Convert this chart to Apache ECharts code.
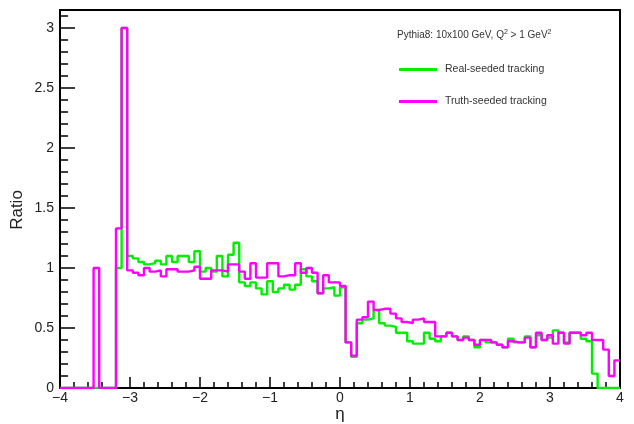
<!DOCTYPE html>
<html>
<head>
<meta charset="utf-8">
<script src="https://cdn.jsdelivr.net/npm/echarts@6/dist/echarts.min.js"></script>
<style>
  html, body { margin: 0; padding: 0; background: #fff; }
  #chart { width: 634px; height: 424px; }
</style>
</head>
<body>
<div id="chart"></div>
<script>
// histogram binning: 100 bins from -4 to 4
var etaMin = -4;
var binWidth = 0.08;

// Real-seeded tracking (green), one value per bin
var realSeeded = [
  0, 0, 0, 0, 0, 0, 0, 0, 0, 0,
  1.00, 3.00,
  1.10, 1.08, 1.05, 1.03, 1.04, 1.06, 1.03, 1.10, 1.05, 1.10, 1.10, 1.05, 1.14,
  0.97, 1.00, 0.97, 1.10, 0.93, 1.11, 1.21, 0.88, 0.85, 0.88, 0.83, 0.78, 0.89, 0.80, 0.83, 0.86,
  0.82, 0.86, 0.99, 0.93, 0.89, 0.79, 0.83, 0.84, 0.77, 0.84, 0.38, 0.26, 0.54, 0.57, 0.58,
  0.65, 0.54, 0.52, 0.51, 0.46, 0.46, 0.39, 0.37, 0.37, 0.46, 0.41, 0.39, 0.43, 0.46, 0.43,
  0.40, 0.43, 0.40, 0.34, 0.40, 0.38, 0.38, 0.36, 0.34, 0.41, 0.38, 0.38, 0.43, 0.34, 0.44,
  0.40, 0.42, 0.48, 0.46, 0.38, 0.46, 0.46, 0.41, 0.39, 0.12, 0, 0, 0, 0
];

// Truth-seeded tracking (magenta), one value per bin
var truthSeeded = [
  0, 0, 0, 0, 0, 0, 1.00, 0, 0, 0,
  1.33, 3.00,
  0.98, 0.96, 0.94, 1.00, 0.97, 0.98, 0.93, 0.99, 0.99, 0.97, 0.97, 0.98, 1.01,
  0.91, 0.91, 0.98, 0.98, 0.97, 1.03, 1.03, 0.97, 0.91, 1.04, 0.92, 0.92, 1.04, 1.04, 0.93, 0.94,
  0.94, 1.04, 0.96, 1.00, 0.96, 0.79, 0.94, 0.88, 0.88, 0.85, 0.38, 0.27, 0.57, 0.59, 0.72,
  0.65, 0.66, 0.66, 0.62, 0.58, 0.55, 0.54, 0.57, 0.58, 0.55, 0.55, 0.43, 0.43, 0.46, 0.43,
  0.40, 0.42, 0.40, 0.36, 0.40, 0.40, 0.38, 0.36, 0.34, 0.39, 0.38, 0.38, 0.42, 0.34, 0.46,
  0.40, 0.44, 0.37, 0.46, 0.37, 0.46, 0.46, 0.44, 0.46, 0.40, 0.40, 0.32, 0.10, 0.23
];

var seriesNames = ['Real-seeded tracking', 'Truth-seeded tracking'];
var headerText = 'Pythia8: 10x100 GeV, Q{sup|2} > 1 GeV{sup|2}';

// turn bin contents into step points (left edge of each bin, plus last right edge)
function toSteps(values) {
  var pts = values.map(function (v, i) {
    return [+(etaMin + i * binWidth).toFixed(2), v];
  });
  pts.push([+(etaMin + values.length * binWidth).toFixed(2), values[values.length - 1]]);
  return pts;
}

function minusLabel(v) {
  return v < 0 ? '\u2212' + Math.abs(v) : String(v);
}

var chart = echarts.init(document.getElementById('chart'));
var font = 'Liberation Sans, Arial, sans-serif';

var option = {
  animation: false,
  backgroundColor: '#fff',
  grid: {
    left: 60, right: 14, top: 10, bottom: 36,
    outerBoundsMode: 'none',
    show: true, borderColor: '#000', borderWidth: 2
  },
  xAxis: {
    type: 'value',
    min: -4, max: 4, interval: 1,
    name: 'η',
    nameLocation: 'middle',
    nameGap: 18,
    nameMoveOverlap: false,
    nameTextStyle: { fontFamily: font, fontSize: 17, color: '#222' },
    axisLine: { onZero: false, lineStyle: { color: '#000', width: 2 } },
    axisTick: { inside: true, length: 11, lineStyle: { color: '#000', width: 1.5 } },
    minorTick: { show: true, splitNumber: 5, length: 6, lineStyle: { color: '#000', width: 1.5 } },
    axisLabel: { fontFamily: font, fontSize: 14, color: '#222', margin: 3, formatter: minusLabel },
    splitLine: { show: false }
  },
  yAxis: {
    type: 'value',
    min: 0, max: 3.15, interval: 0.5,
    name: 'Ratio',
    nameLocation: 'middle',
    nameGap: 34,
    nameRotate: 90,
    nameMoveOverlap: false,
    nameTextStyle: { fontFamily: font, fontSize: 17, color: '#222', padding: [0, 0, 0, -22] },
    axisLine: { onZero: false, lineStyle: { color: '#000', width: 2 } },
    axisTick: { inside: true, length: 15, lineStyle: { color: '#000', width: 1.5 } },
    minorTick: { show: true, splitNumber: 5, length: 8, lineStyle: { color: '#000', width: 1.5 } },
    axisLabel: { fontFamily: font, fontSize: 14, color: '#222', margin: 6, showMaxLabel: false },
    splitLine: { show: false }
  },
  legend: {
    orient: 'vertical',
    left: 399, top: 64, padding: 0,
    itemWidth: 38, itemHeight: 3, itemGap: 21,
    textStyle: { fontFamily: font, fontSize: 10.5, color: '#333', padding: [0, 0, 0, 3] },
    data: [
      { name: seriesNames[0], icon: 'rect' },
      { name: seriesNames[1], icon: 'rect' }
    ]
  },
  graphic: [{
    type: 'text',
    left: 397, top: 29,
    style: {
      text: headerText,
      fontFamily: font, fontSize: 10, fill: '#333',
      rich: {
        sup: { fontSize: 7, verticalAlign: 'top', fill: '#333', padding: [0, 0, 6, 0] }
      }
    }
  }],
  series: [
    {
      name: seriesNames[0],
      type: 'line',
      step: 'end',
      symbol: 'none',
      color: '#00ee00',
      lineStyle: { color: '#00ee00', width: 2.4 },
      z: 2,
      data: toSteps(realSeeded)
    },
    {
      name: seriesNames[1],
      type: 'line',
      step: 'end',
      symbol: 'none',
      color: '#ff00ff',
      lineStyle: { color: '#ff00ff', width: 2.4 },
      z: 3,
      data: toSteps(truthSeeded)
    }
  ]
};

chart.setOption(option);
</script>
</body>
</html>
